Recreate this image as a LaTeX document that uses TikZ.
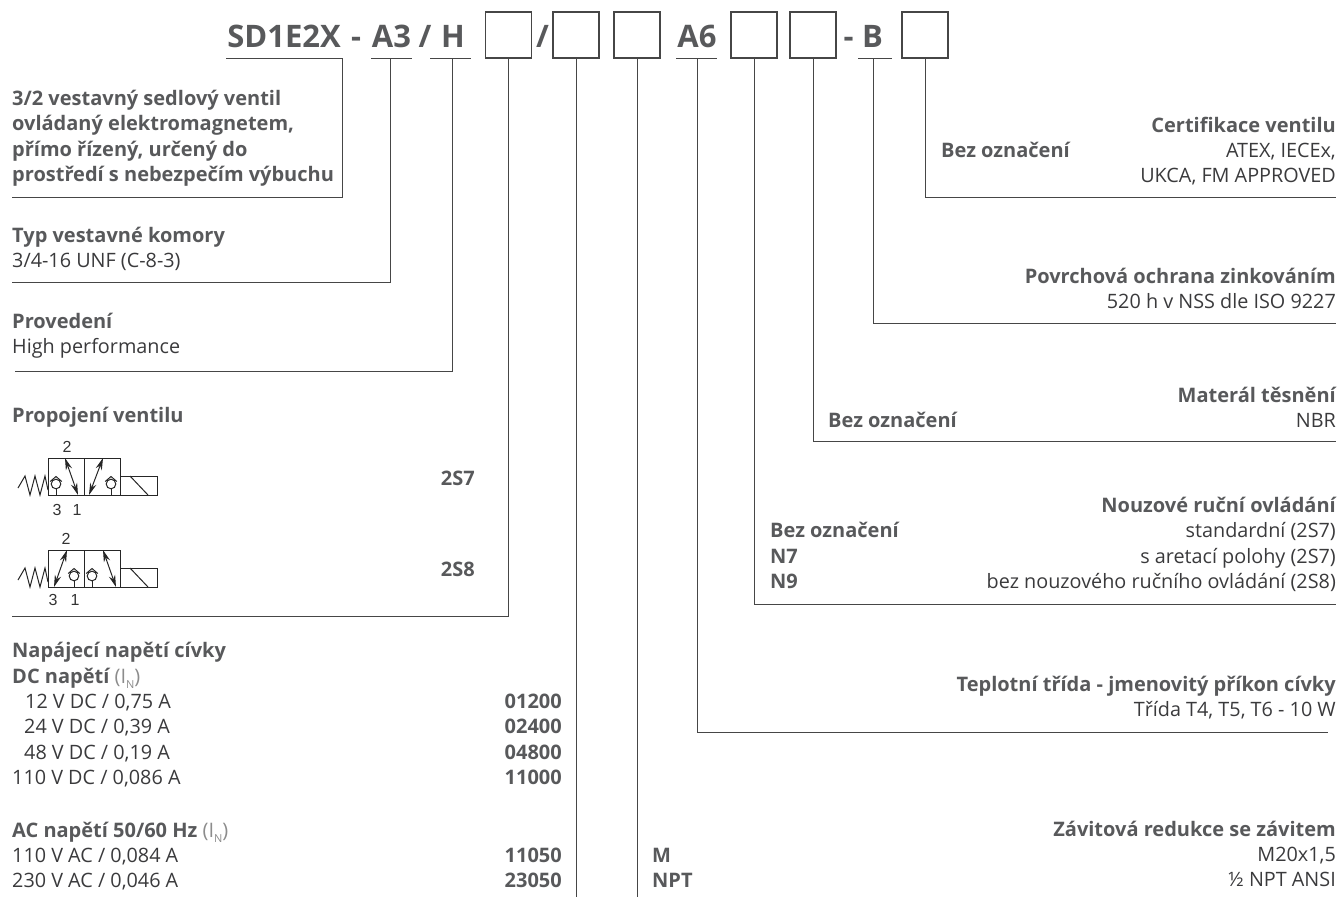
\documentclass[tikz,border=0pt]{standalone}
\usepackage{fontspec}
\setmainfont{Open Sans}
\setsansfont{Liberation Sans}
\usetikzlibrary{positioning,arrows.meta,calc}
\definecolor{codegray}{RGB}{88,89,91}
\definecolor{textgray}{RGB}{58,58,60}
\definecolor{linegray}{RGB}{70,70,70}
\tikzset{
  codetitle/.style={font=\fontsize{31}{36}\selectfont\bfseries, text=codegray, inner sep=0pt, anchor=base},
  codebox/.style={draw=linegray, line width=1.1pt, minimum size=46pt, inner sep=0pt},
  conn/.style={line width=0.9pt, linegray},
  ubar/.style={line width=0.9pt, linegray},
  head/.style={font=\fontsize{20}{24}\selectfont\bfseries, text=codegray, inner sep=0pt, anchor=base west},
  headr/.style={head, anchor=base east},
  plain/.style={font=\fontsize{19.8}{24}\selectfont, text=textgray, inner sep=0pt, anchor=base west},
  plainr/.style={plain, anchor=base east},
  sym/.style={line width=1pt, black!85},
  dbl/.style={sym, {Stealth[length=12pt,width=6.5pt]}-{Stealth[length=12pt,width=6.5pt]}},
  port/.style={font=\sffamily\fontsize{16}{18}\selectfont, text=black!80, inner sep=0pt, anchor=base},
  checkv/.pic={
    \draw[sym] (0,-1) circle (4.8);
    \draw[sym] (-5.8,-3.5) -- (0,-8.5) -- (5.8,-3.5);
    \draw[sym] (0,3.8) -- (0,10);
  },
  valvebody/.pic={
    \draw[sym] (48,0) rectangle (84,37);
    \draw[sym] (84,0) rectangle (120.5,37);
    \draw[sym] (120.5,18) rectangle (157,37);
    \draw[sym] (130,18) -- (148,37);
    \draw[sym] (18,30) -- (25,18) -- (30,37) -- (35,18) -- (40,37) -- (45,18) -- (48,32);
  }
}
\newcommand{\voltrow}[5]{%
  \node[plain] (#1t) at (#2,#3) {#4};
  \node[headr] (#1c) at (562,#3) {#5};
}
\newcommand{\cur}{{\normalfont\color{black!45}(I\raisebox{-5pt}{\fontsize{11}{12}\selectfont N})}}
\begin{document}
\begin{tikzpicture}[x=1pt,y=-1pt]
\useasboundingbox (0,0) rectangle (1338,898);
% order code
\node[codetitle] (sd) at (284,47) {SD1E2X};
\node[codetitle] (dasha) at (356,47) {-};
\node[codetitle] (atri) at (391.5,47) {A3};
\node[codetitle] (slasha) at (425,47) {/};
\node[codetitle] (hp) at (453,47) {H};
\node[codetitle] (slashb) at (542.5,47) {/};
\node[codetitle] (asix) at (697,47) {A6};
\node[codetitle] (dashb) at (848.5,47) {-};
\node[codetitle] (bz) at (872.5,47) {B};
\node[codebox] (boxa) at (508.5,35) {};
\node[codebox] (boxb) at (576,35) {};
\node[codebox] (boxc) at (637,35) {};
\node[codebox] (boxd) at (754,35) {};
\node[codebox] (boxe) at (813,35) {};
\node[codebox] (boxf) at (925,35) {};
% bars under the fixed letters
\coordinate (sdl) at (226,58);
\coordinate (sdr) at (342.5,58);
\coordinate (atl) at (371,58);
\coordinate (atr) at (412,58);
\coordinate (atm) at (390,58);
\coordinate (hpl) at (430,58);
\coordinate (hpr) at (471,58);
\coordinate (hpm) at (452,58);
\coordinate (asl) at (676,58);
\coordinate (asr) at (717,58);
\coordinate (asm) at (697,58);
\coordinate (bzl) at (858,58);
\coordinate (bzr) at (892,58);
\coordinate (bzm) at (873,58);
\draw[ubar] (sdl) -- (sdr);
\draw[ubar] (atl) -- (atr);
\draw[ubar] (hpl) -- (hpr);
\draw[ubar] (asl) -- (asr);
\draw[ubar] (bzl) -- (bzr);
% connector ends
\coordinate (endsd) at (12,197);
\coordinate (endat) at (12,282);
\coordinate (endhp) at (15,371);
\coordinate (enda) at (12,616);
\coordinate (endb) at (577,897);
\coordinate (endc) at (637,897);
\coordinate (endas) at (1328,732);
\coordinate (endd) at (1336,604);
\coordinate (ende) at (1336,441);
\coordinate (endbz) at (1336,323);
\coordinate (endf) at (1336,197);
\draw[conn] (sdr) |- (endsd);
\draw[conn] (atm) |- (endat);
\draw[conn] (hpm) |- (endhp);
\draw[conn] (boxa.south) |- (enda);
\draw[conn] (boxb.south) -- (boxb.south |- endb);
\draw[conn] (boxc.south) -- (boxc.south |- endc);
\draw[conn] (asm) |- (endas);
\draw[conn] (boxd.south) |- (endd);
\draw[conn] (boxe.south) |- (ende);
\draw[conn] (bzm) |- (endbz);
\draw[conn] (boxf.south) |- (endf);
% left column
\node[head] (desca) at (12,105) {3/2 vestavný sedlový ventil};
\node[head] (descb) at (12,130) {ovládaný elektromagnetem,};
\node[head] (descc) at (12,156) {přímo řízený, určený do};
\node[head] (descd) at (12,181) {prostředí s nebezpečím výbuchu};
\node[head] (typa) at (12,242) {Typ vestavné komory};
\node[plain] (typb) at (12,267) {3/4-16 UNF (C-8-3)};
\node[head] (prova) at (12,328) {Provedení};
\node[plain] (provb) at (12,353) {High performance};
\node[head] (prop) at (12,422) {Propojení ventilu};
% symbols
\pic at (0,458) {valvebody};
\pic at (56,485) {checkv};
\pic at (111,485) {checkv};
\draw[dbl] (65,458) -- (78,495);
\draw[dbl] (103,458) -- (89,495);
\node[port] (pa) at (67,452) {2};
\node[port] (pb) at (57,515) {3};
\node[port] (pc) at (77,515) {1};
\node[headr] (code27) at (475,485) {2S7};
\pic at (0,550) {valvebody};
\pic at (74,577) {checkv};
\pic at (92,577) {checkv};
\draw[dbl] (67,550) -- (54,587);
\draw[dbl] (103,550) -- (116,587);
\node[port] (qa) at (66,544) {2};
\node[port] (qb) at (53,605) {3};
\node[port] (qc) at (75,605) {1};
\node[headr] (code28) at (475,576) {2S8};
% coil voltage
\node[head] (coil) at (12,657) {Napájecí napětí cívky};
\node[head] (dcv) at (12,683) {DC napětí \cur};
\voltrow{da}{25}{708}{12 V DC / 0,75 A}{01200}
\voltrow{db}{24}{733}{24 V DC / 0,39 A}{02400}
\voltrow{dc}{24}{759}{48 V DC / 0,19 A}{04800}
\voltrow{dd}{12}{784}{110 V DC / 0,086 A}{11000}
\node[head] (acv) at (12,837) {AC napětí 50/60 Hz \cur};
\voltrow{aa}{12}{862}{110 V AC / 0,084 A}{11050}
\voltrow{ab}{12}{887}{230 V AC / 0,046 A}{23050}
% thread
\node[head] (thm) at (652,862) {M};
\node[head] (thn) at (652,887) {NPT};
\node[headr] (tha) at (1336,836) {Závitová redukce se závitem};
\node[plainr] (thb) at (1336,861) {M20x1,5};
\node[plainr] (thc) at (1336,886) {½ NPT ANSI};
% right column
\node[headr] (tpa) at (1336,691) {Teplotní třída - jmenovitý příkon cívky};
\node[plainr] (tpb) at (1336,716) {Třída T4, T5, T6 - 10 W};
\node[headr] (noa) at (1336,512) {Nouzové ruční ovládání};
\node[head] (nob) at (770,537) {Bez označení};
\node[plainr] (noc) at (1336,537) {standardní (2S7)};
\node[head] (nod) at (770,563) {N7};
\node[plainr] (noe) at (1336,563) {s aretací polohy (2S7)};
\node[head] (nof) at (770,588) {N9};
\node[plainr] (nog) at (1336,588) {bez nouzového ručního ovládání (2S8)};
\node[headr] (maa) at (1336,402) {Materál těsnění};
\node[head] (mab) at (828,427) {Bez označení};
\node[plainr] (mac) at (1336,427) {NBR};
\node[headr] (poa) at (1336,283) {Povrchová ochrana zinkováním};
\node[plainr] (pob) at (1336,308) {520 h v NSS dle ISO 9227};
\node[headr] (cea) at (1336,132) {Certifikace ventilu};
\node[head] (ceb) at (941,157) {Bez označení};
\node[plainr] (cec) at (1336,157) {ATEX, IECEx,};
\node[plainr] (ced) at (1336,182) {UKCA, FM APPROVED};
\end{tikzpicture}
\end{document}
